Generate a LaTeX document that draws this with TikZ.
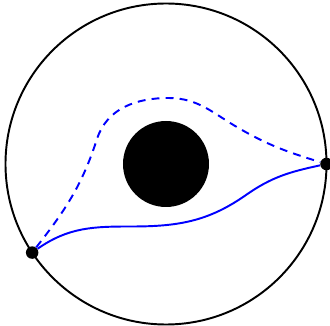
\documentclass[tikz,border=0pt]{standalone}
\begin{document}
\begin{tikzpicture}[
    rim/.style={draw, line width=1.1pt},
    hole/.style={circle, fill=black, minimum size=1.72cm, inner sep=0pt},
    pt/.style={circle, fill=black, minimum size=0.25cm, inner sep=0pt},
    geo/.style={draw=blue, line width=1.1pt},
    alt/.style={geo, dash pattern=on 4.5pt off 3.5pt}
]
    \useasboundingbox (-3.32,-3.24) rectangle (3.28,3.28);

    \draw[rim] (0,0) circle (3.21);
    \node[hole] (bh) at (0,0) {};

    \node[pt] (p) at (213.5:3.21) {};
    \node[pt] (q) at (0:3.21) {};

    \draw[geo] (p) to[out=35,in=180] (-0.7,-1.25) to[out=0,in=215] (1.6,-0.62)
               to[out=35,in=192] (q);
    \draw[alt] (p) to[out=52,in=-108] (-1.38,0.5) to[out=72,in=180] (0.05,1.32)
               to[out=0,in=150] (1.45,0.72) to[out=-30,in=163] (q);
\end{tikzpicture}
\end{document}
